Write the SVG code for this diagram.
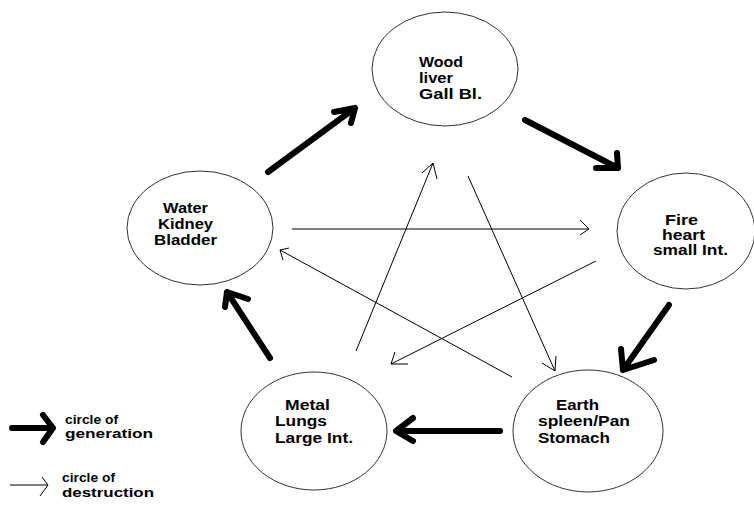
<svg xmlns="http://www.w3.org/2000/svg" width="754" height="508" viewBox="0 0 754 508">
<style>
.node ellipse{fill:#fff;stroke:#333;stroke-width:1}
text{font-family:"Liberation Sans",Arial,sans-serif;font-weight:bold;font-size:14px;fill:#000}
#legend text{font-size:12px}
.thick{fill:none;stroke:#000;stroke-width:6;stroke-linecap:round;stroke-linejoin:round}
.thin{fill:none;stroke:#000;stroke-width:1}
</style>
<rect width="754" height="508" fill="#fff"/>
<g id="wood" class="node">
<ellipse cx="445" cy="69" rx="73" ry="57"/>
<text x="419" y="67" textLength="44" lengthAdjust="spacingAndGlyphs">Wood</text>
<text x="419" y="83" textLength="34" lengthAdjust="spacingAndGlyphs">liver</text>
<text x="419" y="99" textLength="63" lengthAdjust="spacingAndGlyphs">Gall Bl.</text>
</g>
<g id="water" class="node">
<ellipse cx="200" cy="228" rx="73" ry="57"/>
<text x="163" y="213" textLength="45" lengthAdjust="spacingAndGlyphs">Water</text>
<text x="158" y="229" textLength="55" lengthAdjust="spacingAndGlyphs">Kidney</text>
<text x="154" y="245" textLength="63" lengthAdjust="spacingAndGlyphs">Bladder</text>
</g>
<g id="fire" class="node">
<ellipse cx="686" cy="231" rx="69" ry="58"/>
<text x="665" y="225" textLength="33" lengthAdjust="spacingAndGlyphs">Fire</text>
<text x="662" y="240" textLength="43" lengthAdjust="spacingAndGlyphs">heart</text>
<text x="653" y="255" textLength="75" lengthAdjust="spacingAndGlyphs">small Int.</text>
</g>
<g id="earth" class="node">
<ellipse cx="588" cy="431" rx="75" ry="61"/>
<text x="556" y="410" textLength="43" lengthAdjust="spacingAndGlyphs">Earth</text>
<text x="538" y="426" textLength="92" lengthAdjust="spacingAndGlyphs">spleen/Pan</text>
<text x="538" y="443" textLength="72" lengthAdjust="spacingAndGlyphs">Stomach</text>
</g>
<g id="metal" class="node">
<ellipse cx="314" cy="431" rx="73" ry="59"/>
<text x="285" y="410" textLength="45" lengthAdjust="spacingAndGlyphs">Metal</text>
<text x="275" y="426" textLength="52" lengthAdjust="spacingAndGlyphs">Lungs</text>
<text x="275" y="443" textLength="78" lengthAdjust="spacingAndGlyphs">Large Int.</text>
</g>
<g id="connectors">
<path class="thick" d="M268 172 L355 108 M334 112 L355 108 L351 123"/>
<path class="thick" d="M525 120 L618 168 M617 153 L618 168 L596 168"/>
<path class="thick" d="M669 305 L623 370 M621 349 L623 370 L654 360"/>
<path class="thick" d="M500 431 L396 431 M413 418 L396 431 L413 441"/>
<path class="thick" d="M270 358 L227 292 M248 299 L227 292 L225 307"/>
<path class="thin" d="M292 229 L589 229 M580 220 L589 229 L580 235"/>
<path class="thin" d="M596 261 L391 364 M395 352 L391 364 L408 364"/>
<path class="thin" d="M356 351 L433 163 M422 173 L433 163 L437 179"/>
<path class="thin" d="M468 176 L555 371 M542 363 L555 371 L556 356"/>
<path class="thin" d="M512 377 L280 250 M289 248 L280 250 L283 260"/>
</g>
<g id="legend">
<path class="thick" d="M12 428 L53 428 M43 415 L53 428 L43 442"/>
<text x="65" y="424" textLength="53" lengthAdjust="spacingAndGlyphs">circle of</text>
<text x="65" y="438" textLength="88" lengthAdjust="spacingAndGlyphs">generation</text>
<path class="thin" d="M10 485 L48 485 M42 477 L48 485 L40 496"/>
<text x="62" y="482" textLength="53" lengthAdjust="spacingAndGlyphs">circle of</text>
<text x="62" y="497" textLength="92" lengthAdjust="spacingAndGlyphs">destruction</text>
</g>
</svg>
